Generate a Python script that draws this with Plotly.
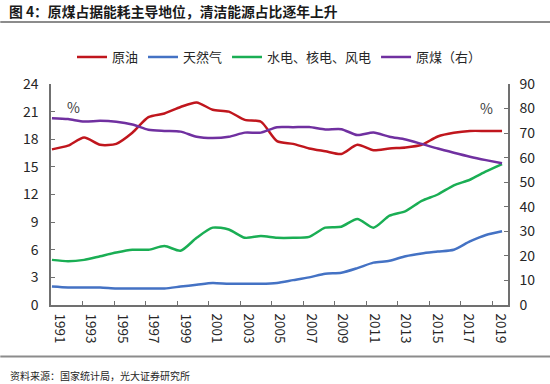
import plotly.graph_objects as go

years = list(range(1991, 2020))
oil = [16.9, 17.3, 18.2, 17.4, 17.5, 18.7, 20.4, 20.8, 21.5, 22.0, 21.2, 21.0, 20.1, 19.9,
       17.8, 17.5, 17.0, 16.7, 16.4, 17.4, 16.8, 17.0, 17.1, 17.4, 18.3, 18.7, 18.9, 18.9, 18.9]
gas = [2.0, 1.9, 1.9, 1.9, 1.8, 1.8, 1.8, 1.8, 2.0, 2.2, 2.4, 2.3, 2.3, 2.3,
       2.4, 2.7, 3.0, 3.4, 3.5, 4.0, 4.6, 4.8, 5.3, 5.6, 5.8, 6.0, 6.9, 7.6, 8.0]
clean = [4.9, 4.75, 4.9, 5.3, 5.7, 6.0, 6.0, 6.4, 5.9, 7.3, 8.4, 8.2, 7.3, 7.5,
         7.3, 7.3, 7.4, 8.4, 8.5, 9.35, 8.4, 9.7, 10.2, 11.3, 12.0, 13.0, 13.6, 14.5, 15.3]
coal = [76.1, 75.7, 74.7, 75.0, 74.6, 73.5, 71.4, 70.9, 70.6, 68.5, 68.0, 68.5, 70.2, 70.2,
        72.4, 72.4, 72.5, 71.5, 71.6, 69.2, 70.2, 68.5, 67.4, 65.6, 63.7, 62.0, 60.4, 59.0, 57.7]

label_years = years[::2]
n_cat = len(years)

FONT = "Noto Sans CJK SC"
AX = "#707070"
TXT = "#262626"

fig = go.Figure()
# dummy trace to anchor the label axis subplot
fig.add_trace(go.Scatter(x=[0], y=[None], xaxis="x", yaxis="y", showlegend=False,
                         hoverinfo="skip", mode="lines"))

series = [("原油", oil, "#C0161D", "y"),
          ("天然气", gas, "#4472C4", "y"),
          ("水电、核电、风电", clean, "#1AAE54", "y"),
          ("原煤（右）", coal, "#7030A0", "y2")]
for name, vals, col, ya in series:
    fig.add_trace(go.Scatter(x=years, y=vals, name=name, mode="lines",
                             line=dict(color=col, width=2.5, shape="spline", smoothing=0.7),
                             xaxis="x2", yaxis=ya))

fig.update_layout(
    width=550, height=384,
    margin=dict(l=51, r=42, t=84, b=79),
    paper_bgcolor="white", plot_bgcolor="white",
    font=dict(family=FONT, size=13, color=TXT),
    showlegend=True,
    legend=dict(orientation="h", x=0.5, xanchor="center", y=1.122, yanchor="middle",
                font=dict(size=13, color=TXT), itemwidth=30, tracegroupgap=0,
                bgcolor="rgba(0,0,0,0)"),
    xaxis=dict(range=[0, n_cat], domain=[0, 1], anchor="y",
               tickmode="array",
               tickvals=[i + 0.5 for i in range(0, n_cat, 2)],
               ticktext=[str(y) for y in label_years],
               tickangle=90, ticks="", showgrid=False, zeroline=False,
               showline=True, linecolor=AX, linewidth=1.5,
               tickfont=dict(size=13.5, color=TXT), ticklabelstandoff=4,
               minor=dict(tickmode="array", tickvals=list(range(2, n_cat, 2)),
                          ticks="inside", ticklen=4, tickcolor=AX, tickwidth=1.3,
                          showgrid=False)),
    xaxis2=dict(range=[1990.94, 2019.37], overlaying="x", visible=False,
                showgrid=False, zeroline=False),
    yaxis=dict(range=[0, 24], dtick=3, tick0=0, ticks="inside", ticklen=4,
               tickcolor=AX, tickwidth=1.3, showline=True, linecolor=AX, linewidth=1.5,
               showgrid=False, zeroline=False, tickfont=dict(size=14, color=TXT),
               ticklabelstandoff=8),
    yaxis2=dict(range=[0, 90], dtick=10, tick0=0, overlaying="y", side="right", anchor="x",
                ticks="inside", ticklen=4, tickcolor=AX, tickwidth=1.3, showline=True,
                linecolor=AX, linewidth=1.5, showgrid=False, zeroline=False,
                tickfont=dict(size=14, color=TXT), ticklabelstandoff=7),
)

fig.add_annotation(text="%", x=0.031, y=0.95, xref="paper", yref="paper",
                   showarrow=False, font=dict(size=14, color="#404040"))
fig.add_annotation(text="%", x=0.972, y=0.945, xref="paper", yref="paper",
                   showarrow=False, font=dict(size=14, color="#404040"))
fig.add_annotation(text="<b>图 4：原煤占据能耗主导地位，清洁能源占比逐年上升</b>",
                   x=-0.0956, y=1.330, xref="paper", yref="paper", xanchor="left",
                   yanchor="middle", showarrow=False, font=dict(size=13.8, color="#1a1a1a"))
fig.add_annotation(text="资料来源：国家统计局，光大证券研究所",
                   x=-0.0945, y=-0.317, xref="paper", yref="paper", xanchor="left",
                   yanchor="middle", showarrow=False, font=dict(size=10, color="#262626"))
fig.add_shape(type="line", xref="paper", yref="paper", x0=-0.111, x1=1.093,
              y0=1.2805, y1=1.2805, line=dict(color="#8c8c8c", width=2))
fig.add_shape(type="line", xref="paper", yref="paper", x0=-0.111, x1=1.093,
              y0=-0.233, y1=-0.233, line=dict(color="#8c8c8c", width=2))

fig.write_html("out.html", config={"displayModeBar": False},
               post_script="document.body.style.margin='0px';document.body.style.padding='0px';")
